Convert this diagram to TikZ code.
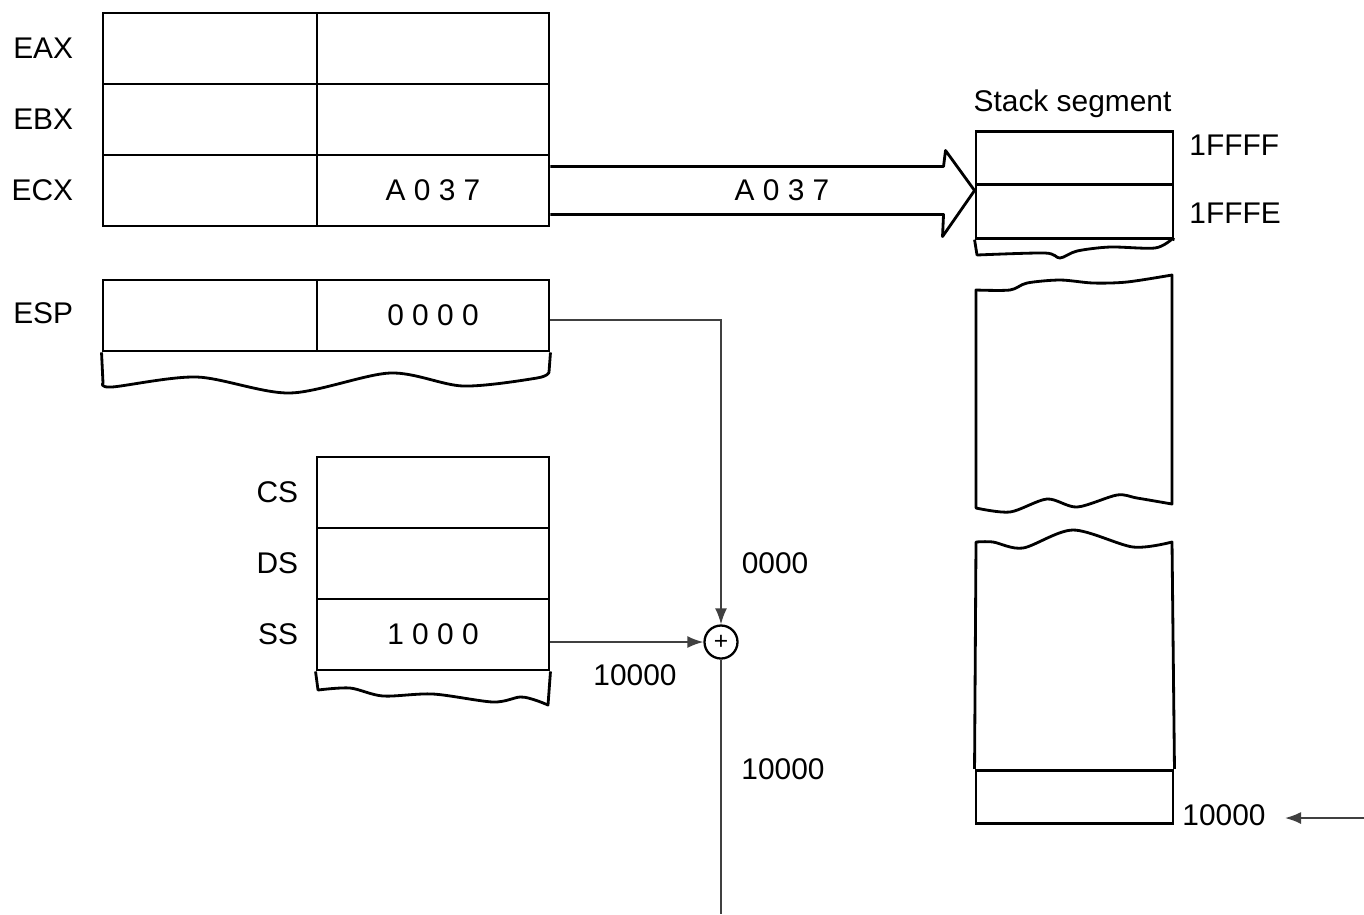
\documentclass[tikz,border=0pt]{standalone}
\usepackage{fontspec}
\setmainfont{Liberation Sans}
\usetikzlibrary{positioning,arrows.meta}

\begin{document}
\begin{tikzpicture}[x=0.01cm, y=-0.01cm, font=\fontsize{8.5}{10}\selectfont,
  >={Latex[length=0.16cm,width=0.12cm]},
  cell/.style={draw, line width=0.8pt, inner sep=0pt, minimum height=0.71cm},
  hi/.style={cell, minimum width=2.14cm},
  lo/.style={cell, minimum width=2.32cm},
  slot/.style={cell, minimum width=1.97cm, minimum height=0.535cm},
  wave/.style={line width=0.8pt, line join=round},
  wire/.style={draw=black!75, line width=0.5pt}]
  \useasboundingbox (0,0) rectangle (1364,914);
  % general registers
  \node[hi] (eaxhi) at (210,48.5) {};
  \node[lo] (eaxlo) at (433,48.5) {};
  \node[hi] (ebxhi) at (210,119.5) {};
  \node[lo] (ebxlo) at (433,119.5) {};
  \node[hi] (ecxhi) at (210,190.5) {};
  \node[lo] (ecxlo) at (433,190.5) {A 0 3 7};
  \node[left=0.16cm of eaxhi] (eax) {EAX};
  \node[left=0.16cm of ebxhi] (ebx) {EBX};
  \node[left=0.16cm of ecxhi] (ecx) {ECX};
  % stack pointer
  \node[hi] (esphi) at (210,315.5) {};
  \node[lo] (esplo) at (433,315.5) {0 0 0 0};
  \node[left=0.16cm of esphi, yshift=0.02cm] (esp) {ESP};
  \draw[wave] (esphi.south west) -- plot[smooth] coordinates {(103,383) (112,387) (197,377) (290,393) (390,373) (463,386) (537,378) (549,372)} -- (esplo.south east);
  % segment registers
  \node[lo] (cs) at (433,492.5) {};
  \node[lo] (ds) at (433,563.5) {};
  \node[lo] (ss) at (433,634.5) {1 0 0 0};
  \node[left=0.05cm of cs] (csl) {CS};
  \node[left=0.05cm of ds] (dsl) {DS};
  \node[left=0.05cm of ss] (ssl) {SS};
  \draw[wave] (ss.south west) -- plot[smooth] coordinates {(318,690) (350,688) (383,696) (433,694) (493,702) (520,697) (535,700) (548,705)} -- (ss.south east);
  % stack segment
  \node[slot] (s1) at (1074.5,158) {};
  \node[slot] (s2) at (1074.5,211.5) {};
  \node[above=0cm of s1, xshift=-0.02cm] (stk) {Stack segment};
  \node[anchor=west] (ffff) at (1177,145) {1FFFF};
  \node[anchor=west] (fffe) at (1177,213) {1FFFE};
  \draw[wave] (s2.south west) -- plot[smooth] coordinates {(977,255) (1045,253) (1060,258) (1077,251) (1110,247) (1155,248) (1172,239)} -- (s2.south east);
  \draw[wave] plot[smooth] coordinates {(976,290) (1010,290) (1027,283) (1060,280) (1093,283) (1127,282) (1172,275)} -- (1172,504) -- plot[smooth] coordinates {(1172,504) (1137,498) (1117,495) (1077,507) (1047,499) (1010,512) (976,508)} -- cycle;
  \node[slot] (sb) at (1074.5,797) {};
  \draw[wave] (sb.north west) -- plot[smooth] coordinates {(976,542) (993,542) (1023,548) (1073,530) (1133,547) (1172,542)} -- (sb.north east);
  \node[anchor=west] (base) at (1170,815) {10000};
  \coordinate (ptr) at (1364,818);
  \draw[wire, ->, shorten >=0.07cm] (ptr) -- (ptr -| base.east);
  % ECX pushed onto the stack
  \coordinate (tip) at (s1.west |- ecxlo.east);
  \draw[wave] ([yshift=0.24cm]ecxlo.east) -- ([xshift=-0.31cm,yshift=0.24cm]tip) -- ([xshift=-0.29cm,yshift=0.40cm]tip) -- (tip) -- ([xshift=-0.32cm,yshift=-0.46cm]tip) -- ([xshift=-0.31cm,yshift=-0.24cm]tip) -- ([yshift=-0.24cm]ecxlo.east);
  \node (pushed) at (782,190) {A 0 3 7};
  % address adder
  \node[draw, circle, line width=0.65pt, minimum size=0.33cm, inner sep=0pt, font=\fontsize{7}{7}\selectfont] (adder) at (721,642) {+};
  \draw[wire, ->] ([yshift=-0.045cm]esplo.east) -| (adder.north);
  \draw[wire, ->] (ss.east |- adder.west) -- (adder.west);
  \coordinate (addr) at (721,914);
  \draw[wire] (adder.south) -- (addr);
  \node (offs) at (775,563) {0000};
  \node (segb) at (635,675) {10000};
  \node (phys) at (783,769) {10000};
\end{tikzpicture}
\end{document}
